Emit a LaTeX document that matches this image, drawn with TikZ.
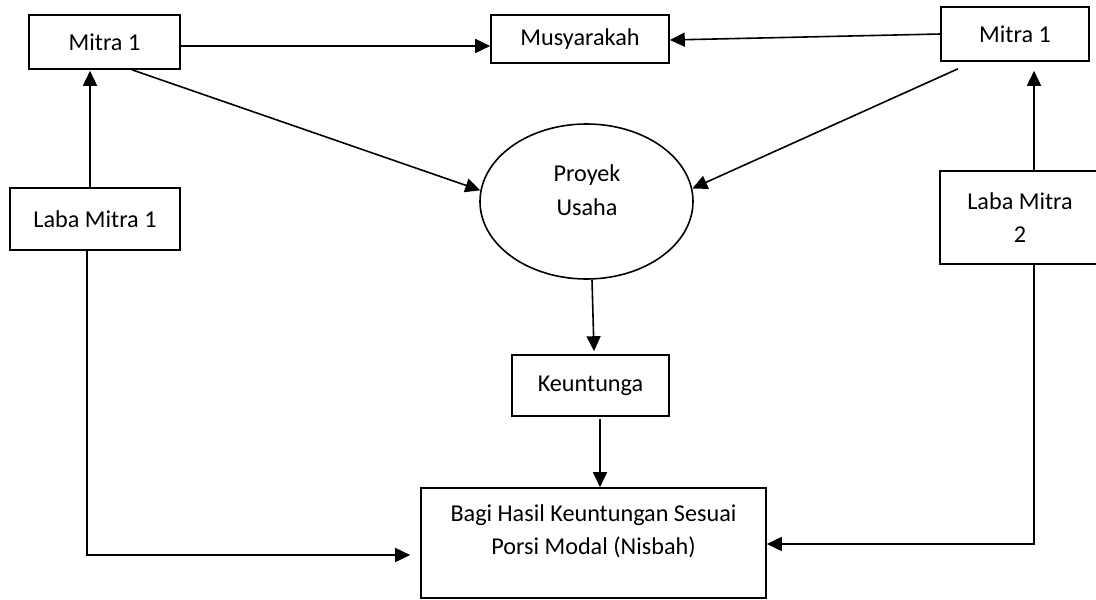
\documentclass[tikz,border=0pt]{standalone}
\usepackage{fontspec}
\setmainfont{Carlito}
\usetikzlibrary{arrows.meta,shapes.geometric}
\begin{document}
\begin{tikzpicture}[x=1pt,y=-1pt,
  box/.style={draw,line width=1.6pt,rectangle,inner sep=0pt,font=\fontsize{24.2}{33.5}\selectfont,align=center},
  txt/.style={inner sep=0pt,font=\fontsize{24.2}{33.5}\selectfont,align=center},
  arr/.style={line width=1.6pt,-{Triangle[length=15pt,width=14pt]}},
  ln/.style={line width=1.6pt}]
\useasboundingbox[fill=white] (0,0) rectangle (1096,600);
\node[box,minimum width=151pt,minimum height=54pt] (m1L) at (104.5,42) {Mitra 1};
\node[box,minimum width=178pt,minimum height=48pt] (mus) at (580,39) {Musyarakah};
\node[box,minimum width=148pt,minimum height=54pt] (m1R) at (1015,34) {Mitra 1};
\node[box,minimum width=170pt,minimum height=62pt] (lm1) at (95,219) {Laba Mitra 1};
\node[box,minimum width=160pt,minimum height=93pt] (lm2) at (1020,217.5) {Laba Mitra\\2};
\node[draw,ellipse,line width=1.6pt,minimum width=213pt,minimum height=155pt,inner sep=0pt] (ell) at (586.5,201.5) {};
\node[txt] (ellt) at (587,190) {Proyek\\Usaha};
\node[box,minimum width=157pt,minimum height=61pt] (keu) at (590.5,385.5) {Keuntunga};
\node[box,minimum width=345pt,minimum height=110pt] (bagi) at (593.5,543) {};
\node[txt] (bagit) at (593.5,531.5) {Bagi Hasil Keuntungan Sesuai\\Porsi Modal (Nisbah)};
% connectors
\draw[arr] ([yshift=-4pt]m1L.east) -- ([yshift=-7pt]mus.west);
\draw[arr] (m1R.west) -- ([yshift=-1pt]mus.east);
\draw[arr] ([xshift=27.5pt]m1L.south) -- (ell.174);
\draw[arr] ([xshift=-57pt,yshift=-7pt]m1R.south) -- (ell.7);
\draw[arr] ([xshift=-5pt]lm1.north) -- ([xshift=-14.5pt,yshift=-1pt]m1L.south);
\draw[arr] ([xshift=14pt]lm2.north) -- ([xshift=19pt,yshift=-9pt]m1R.south);
\draw[arr] ([xshift=5.5pt]ell.south) -- ([xshift=3.5pt,yshift=3pt]keu.north);
\draw[arr] ([xshift=9.5pt,yshift=-2pt]keu.south) -- ([xshift=6.5pt]bagi.north);
\draw[arr] ([xshift=-8pt]lm1.south) |- ([xshift=-10pt,yshift=-12pt]bagi.west);
\draw[arr] ([xshift=14pt]lm2.south) |- ([yshift=-1pt]bagi.east);
\end{tikzpicture}
\end{document}
